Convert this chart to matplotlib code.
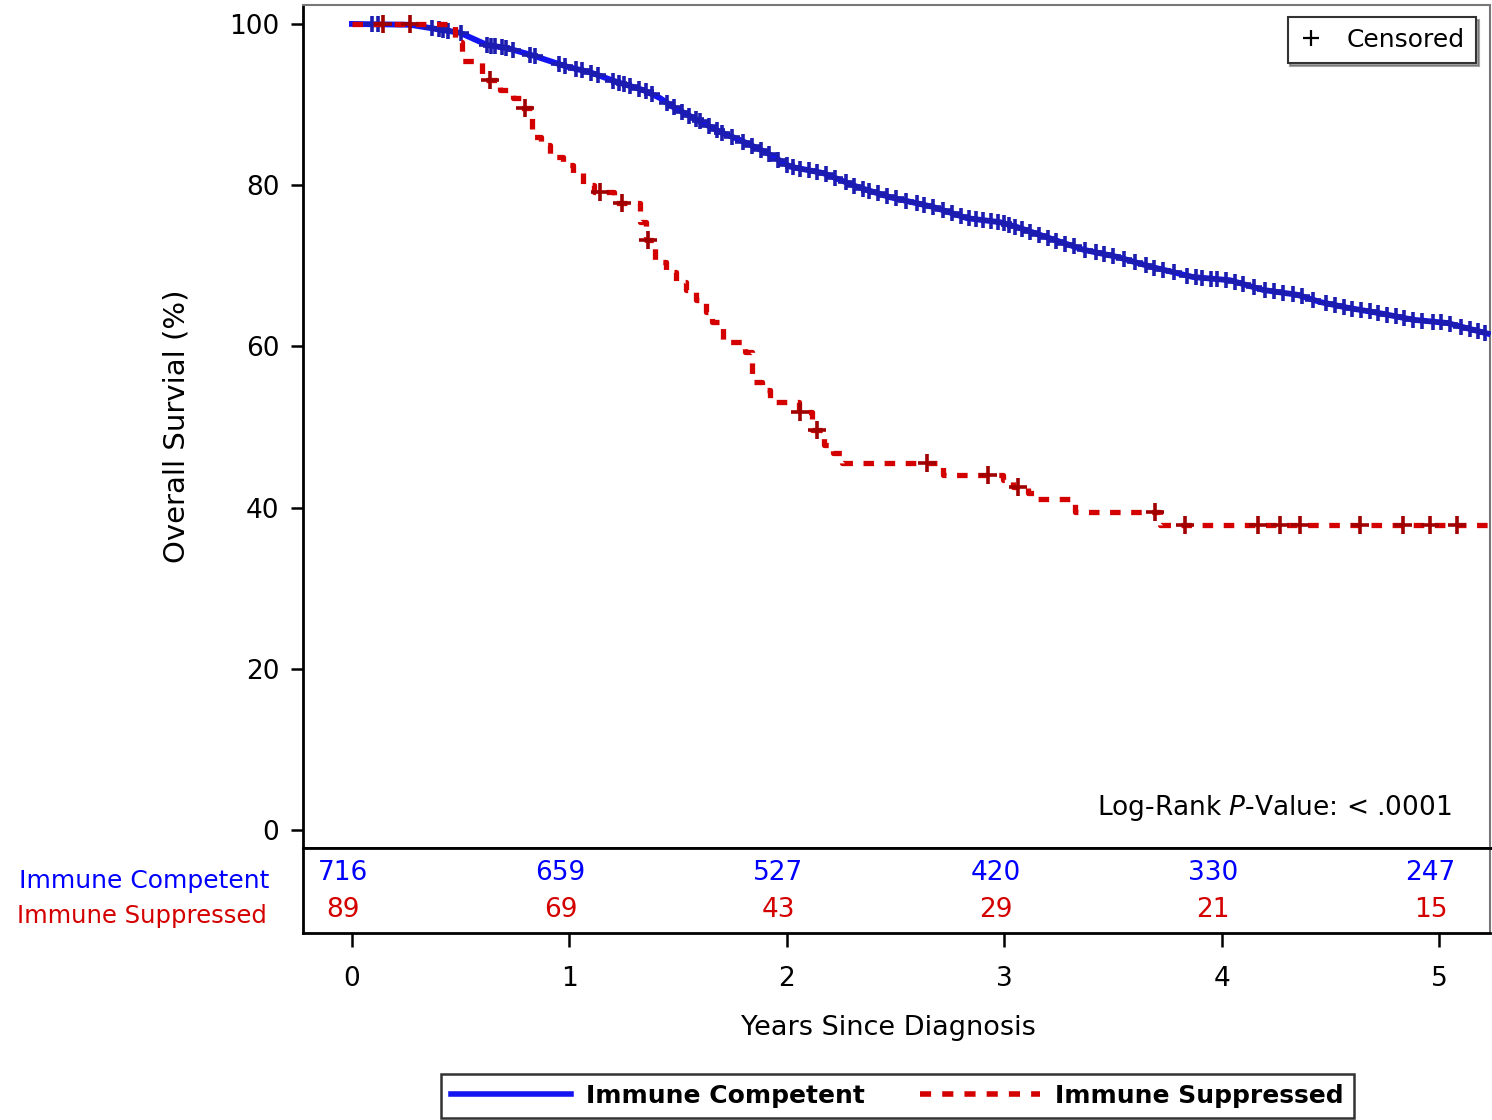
import numpy as np
import matplotlib
matplotlib.use("Agg")
import matplotlib.pyplot as plt
from matplotlib.lines import Line2D

plt.rcParams['font.family'] = ['DejaVu Sans']

# ---- data ----
# immune competent (blue): survival curve points
comp_t = [0.0, 0.267, 0.405, 0.497, 0.621, 0.713, 0.819, 0.989, 1.095, 1.219,
          1.339, 1.417, 1.477, 1.587, 1.693, 1.785, 1.909, 2.015, 2.167, 2.323,
          2.475, 2.672, 2.829, 2.981, 3.059, 3.211, 3.362, 3.519, 3.671, 3.868,
          4.039, 4.190, 4.347, 4.453, 4.577, 4.729, 4.880, 5.037, 5.234]
comp_s = [100.0, 99.9, 99.3, 98.9, 97.4, 97.0, 96.2, 94.7, 94.0, 92.8,
          91.8, 90.8, 89.7, 88.1, 86.6, 85.6, 84.0, 82.3, 81.5, 79.8,
          78.5, 77.3, 75.9, 75.4, 74.8, 73.4, 72.0, 71.1, 69.9, 68.6,
          68.2, 67.0, 66.4, 65.5, 64.8, 64.1, 63.3, 62.9, 61.5]
comp_cens = [0.09, 0.12, 0.37, 0.40, 0.42, 0.44, 0.50, 0.62, 0.64, 0.66, 0.69,
             0.71, 0.74, 0.82, 0.84, 0.95, 0.98, 1.03, 1.06, 1.10, 1.13, 1.20,
             1.23, 1.25, 1.28, 1.32, 1.35, 1.38, 1.45, 1.48, 1.52, 1.55, 1.58,
             1.60, 1.64, 1.68, 1.70, 1.75, 1.80, 1.84, 1.88, 1.92, 1.96, 2.00,
             2.03, 2.06, 2.10, 2.14, 2.18, 2.22, 2.27, 2.31, 2.35, 2.38, 2.42,
             2.46, 2.50, 2.55, 2.60, 2.63, 2.67, 2.72, 2.76, 2.80, 2.84, 2.87,
             2.90, 2.94, 2.97, 3.00, 3.02, 3.05, 3.08, 3.12, 3.16, 3.20, 3.24,
             3.28, 3.32, 3.37, 3.42, 3.46, 3.50, 3.55, 3.60, 3.65, 3.69, 3.73,
             3.78, 3.84, 3.88, 3.91, 3.95, 3.98, 4.02, 4.06, 4.10, 4.15, 4.20,
             4.24, 4.28, 4.33, 4.37, 4.42, 4.48, 4.52, 4.56, 4.60, 4.64, 4.68,
             4.72, 4.76, 4.80, 4.84, 4.88, 4.92, 4.97, 5.01, 5.05, 5.10, 5.14,
             5.18, 5.21]

# immune suppressed (red): step function (time of drop, survival after)
supp_t = [0.0, 0.474, 0.506, 0.598, 0.681, 0.741, 0.777, 0.828, 0.869, 0.911,
          0.971, 1.017, 1.063, 1.113, 1.205, 1.325, 1.352, 1.394, 1.444, 1.490,
          1.536, 1.582, 1.628, 1.656, 1.707, 1.808, 1.840, 1.886, 1.923, 2.056,
          2.116, 2.171, 2.213, 2.254, 2.718, 2.994, 3.040, 3.110, 3.156, 3.326,
          3.717, 5.234]
supp_s = [100.0, 97.7, 95.4, 93.0, 91.8, 90.8, 89.6, 86.0, 85.0, 83.5,
          82.5, 81.5, 80.0, 79.2, 77.8, 75.4, 73.2, 70.5, 69.2, 68.0,
          67.0, 65.8, 64.3, 63.0, 60.5, 59.3, 55.6, 54.6, 53.1, 51.9,
          49.6, 47.8, 46.8, 45.5, 44.0, 43.4, 42.6, 41.8, 41.1, 39.5,
          37.8, 37.8]
supp_cens = [0.143, 0.267, 0.635, 0.796, 1.141, 1.242, 1.362, 2.061, 2.139,
             2.645, 2.925, 3.063, 3.694, 3.832, 4.167, 4.269, 4.361, 4.637,
             4.834, 4.959, 5.083]

# number at risk
risk_years = [0, 1, 2, 3, 4, 5]
risk_comp = [716, 659, 527, 420, 330, 247]
risk_supp = [89, 69, 43, 29, 21, 15]

blue = '#1414f0'
red = '#d40000'

fig = plt.figure(figsize=(14.92, 11.2), dpi=100)
ax = fig.add_axes([0.2031, 0.2429, 0.7956, 0.7527])
axr = fig.add_axes([0.2031, 0.1670, 0.7956, 0.0759])

# curves
ax.plot(comp_t, comp_s, color=blue, lw=4.2, zorder=3)
cy = np.interp(comp_cens, comp_t, comp_s)
ax.plot(comp_cens, cy, ls='none', marker='+', ms=12, mew=2.6,
        color='#1c1cb0', zorder=4)

ax.step(supp_t, supp_s, where='post', color=red, lw=3.8,
        ls=(0, (2.0, 2.0)), zorder=5)
idx = np.searchsorted(supp_t, supp_cens, side='right') - 1
sy = np.array(supp_s)[idx]
ax.plot(supp_cens, sy, ls='none', marker='+', ms=13, mew=2.6,
        color='#a00000', zorder=6)

ax.set_xlim(-0.225, 5.234)
ax.set_ylim(-2.23, 102.36)
ax.set_yticks([0, 20, 40, 60, 80, 100])
ax.tick_params(axis='y', length=9, width=1.8, labelsize=19, pad=8)
ax.tick_params(axis='x', bottom=False, labelbottom=False)
ax.set_ylabel('Overall Survial (%)', fontsize=21)
ax.yaxis.set_label_coords(-0.095, 0.5)
for s in ['left', 'bottom']:
    ax.spines[s].set_linewidth(2)
for s in ['top', 'right']:
    ax.spines[s].set_color('#777777')
    ax.spines[s].set_linewidth(1.5)

ax.text(0.968, 0.030, r'Log-Rank $\it{P}$-Value: < .0001', transform=ax.transAxes,
        ha='right', va='bottom', fontsize=19)

cens_handle = Line2D([], [], ls='none', marker='+', color='black', ms=12, mew=1.6)
leg = ax.legend([cens_handle], ['Censored'], loc='upper right',
                bbox_to_anchor=(0.988, 0.986), borderaxespad=0, fontsize=18,
                frameon=True, fancybox=False, shadow=True, handlelength=1.0,
                handletextpad=0.9, borderpad=0.45)
leg.get_frame().set_edgecolor('#333333')
leg.get_frame().set_linewidth(1.5)

# risk table
axr.set_xlim(-0.225, 5.234)
axr.set_ylim(0, 1)
axr.set_yticks([])
axr.set_xticks(risk_years)
axr.tick_params(axis='x', length=10, width=1.8, labelsize=19, pad=14)
for s in ['left', 'bottom', 'top']:
    axr.spines[s].set_linewidth(2)
axr.spines['right'].set_color('#777777')
axr.spines['right'].set_linewidth(1.5)
for yr, nc, ns in zip(risk_years, risk_comp, risk_supp):
    axr.text(yr - 0.04, 0.70, str(nc), color='#0000ff', ha='center',
             va='center', fontsize=19)
    axr.text(yr - 0.04, 0.27, str(ns), color=red, ha='center',
             va='center', fontsize=19)
axr.text(-0.378, 0.61, 'Immune Competent', color='#0000ff', ha='right',
         va='center', fontsize=18)
axr.text(-0.392, 0.20, 'Immune Suppressed', color=red, ha='right',
         va='center', fontsize=17.5)
axr.set_xlabel('Years Since Diagnosis', fontsize=19.5)
axr.xaxis.set_label_coords(0.493, -0.97)
axr.xaxis.label.set_va('top')

# bottom legend
h1 = Line2D([], [], color=blue, lw=4)
h2 = Line2D([], [], color=red, lw=4, ls=(0, (2, 2)))
leg2 = fig.legend([h1, h2], ['Immune Competent', 'Immune Suppressed'],
                  loc='center', bbox_to_anchor=(0.6015, 0.0214), ncol=2,
                  prop={'weight': 'bold', 'size': 18}, frameon=True,
                  fancybox=False, handlelength=4.8, handletextpad=0.6,
                  columnspacing=2.2, borderpad=0.4)
leg2.get_frame().set_edgecolor('black')
leg2.get_frame().set_linewidth(1.8)

fig.savefig('out.png', dpi=100)
